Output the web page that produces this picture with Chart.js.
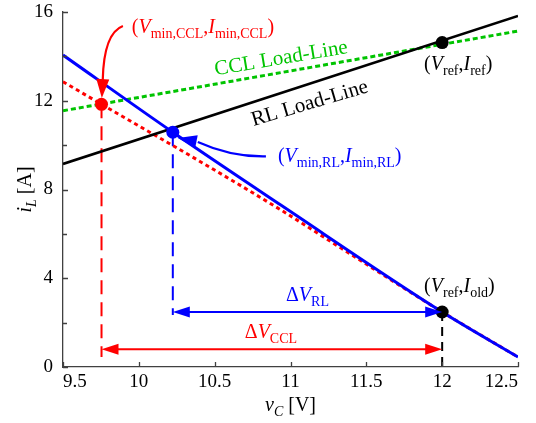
<!DOCTYPE html>
<html><head><meta charset="utf-8">
<script src="https://cdn.jsdelivr.net/npm/chart.js@4.4.1/dist/chart.umd.min.js"></script>
<style>html,body{margin:0;padding:0;background:#fff;} #wrap{width:536px;height:423px;position:relative;}</style>
</head><body><div id="wrap"><canvas id="c" width="536" height="423"></canvas></div>
<script>
// ---- data ----
const xTicks = [9.5, 10, 10.5, 11, 11.5, 12, 12.5];
const xTickLabels = ['9.5', '10', '10.5', '11', '11.5', '12', '12.5'];
const yTicks = [0, 4, 8, 12, 16];
const yTickLabels = ['0', '4', '8', '12', '16'];
const yMinorTicks = [2, 6, 10, 14];

const rlTrajV = [9.5, 10.224, 10.936, 12.0, 12.5];
const rlTrajI = [14.06, 10.58, 7.3, 2.48, 0.45];
const cclTrajV = [9.5, 9.754, 10.387, 10.936, 11.333, 12.0, 12.5];
const cclTrajI = [12.86, 11.84, 9.33, 7.08, 5.36, 2.48, 0.45];
const cclLoadV = [9.5, 12.5];
const cclLoadI = [11.55, 15.14];
const rlLoadV = [9.5, 12.5];
const rlLoadI = [9.15, 15.82];

const opV = [9.754, 10.224, 12.0, 12.0];
const opI = [11.84, 10.58, 14.62, 2.48];

const dropCclV = [9.754, 9.754];  const dropCclI = [11.84, 0.45];
const dropRlV = [10.224, 10.224]; const dropRlI = [10.58, 2.34];
const dropRefV = [12.0, 12.0];    const dropRefI = [2.48, 0];

const dvRlFrom = 10.224, dvRlTo = 12.0, dvRlAt = 2.48;
const dvCclFrom = 9.754, dvCclTo = 12.0, dvCclAt = 0.80;

// ---- styles ----
const RED = '#ff0000', BLUE = '#0000ff', GREEN = '#00c400', BLACK = '#000000', AXIS = '#404040';
const SERIF = "'Liberation Serif', 'Times New Roman', serif";

const pts = (vs, is) => vs.map((v, k) => ({x: v, y: is[k]}));

const labels = [
  {v: 9.954, i: 15.05, color: RED, align: 'left', segs: [['(', 'n'], ['V', 'i'], ['min,CCL', 's'], [',', 'n'], ['I', 'i'], ['min,CCL', 's'], [')', 'n']]},
  {v: 10.944, i: 13.65, color: GREEN, align: 'center', rot: -9.5, size: 21, segs: [['CCL Load-Line', 'n']]},
  {v: 11.137, i: 11.63, color: BLACK, align: 'center', rot: -16.5, size: 21, segs: [['RL Load-Line', 'n']]},
  {v: 11.881, i: 13.38, color: BLACK, align: 'left', segs: [['(', 'n'], ['V', 'i'], ['ref', 's'], [',', 'n'], ['I', 'i'], ['ref', 's'], [')', 'n']]},
  {v: 10.917, i: 9.24, color: BLUE, align: 'left', segs: [['(', 'n'], ['V', 'i'], ['min,RL', 's'], [',', 'n'], ['I', 'i'], ['min,RL', 's'], [')', 'n']]},
  {v: 11.881, i: 3.38, color: BLACK, align: 'left', segs: [['(', 'n'], ['V', 'i'], ['ref', 's'], [',', 'n'], ['I', 'i'], ['old', 's'], [')', 'n']]},
  {v: 11.112, i: 2.99, color: BLUE, align: 'center', segs: [['\u0394', 'n'], ['V', 'i'], ['RL', 's']]},
  {v: 10.871, i: 1.31, color: RED, align: 'center', segs: [['\u0394', 'n'], ['V', 'i'], ['CCL', 's']]}
];
const pointers = [
  {color: RED, p: [[9.895, 15.37], [9.769, 15.05], [9.762, 12.93], [9.756, 12.12]]},
  {color: BLUE, p: [[10.838, 9.49], [10.607, 9.46], [10.389, 10.14], [10.257, 10.32]]}
];

function fontFor(style, size) {
  const sub = style === 's' || style === 'si';
  const sz = sub ? Math.round(size * 0.7) : size;
  const it = style === 'i' || style === 'si';
  return (it ? 'italic ' : '') + sz + 'px ' + SERIF;
}
function drawRich(ctx, x, y, segs, color, align, rot, size) {
  size = size || 20;
  ctx.save();
  ctx.translate(x, y);
  if (rot) ctx.rotate(rot * Math.PI / 180);
  ctx.fillStyle = color;
  ctx.textBaseline = 'alphabetic';
  ctx.textAlign = 'left';
  let w = 0;
  segs.forEach(([t, s]) => { ctx.font = fontFor(s, size); w += ctx.measureText(t).width; });
  let cx = align === 'center' ? -w / 2 : (align === 'right' ? -w : 0);
  segs.forEach(([t, s]) => {
    ctx.font = fontFor(s, size);
    const dy = (s === 's' || s === 'si') ? size * 0.25 : 0;
    ctx.fillText(t, cx, dy);
    cx += ctx.measureText(t).width;
  });
  ctx.restore();
}
function arrowHead(ctx, fx, fy, tx, ty, len, half, color) {
  const a = Math.atan2(ty - fy, tx - fx);
  ctx.save();
  ctx.fillStyle = color;
  ctx.beginPath();
  ctx.moveTo(tx, ty);
  ctx.lineTo(tx - len * Math.cos(a) + half * Math.sin(a), ty - len * Math.sin(a) - half * Math.cos(a));
  ctx.lineTo(tx - len * Math.cos(a) - half * Math.sin(a), ty - len * Math.sin(a) + half * Math.cos(a));
  ctx.closePath();
  ctx.fill();
  ctx.restore();
}
function dArrow(ctx, xs, x1, x2, yv, color) {
  const X = xs.x, Y = xs.y;
  const a = X.getPixelForValue(x1), b = X.getPixelForValue(x2), y = Y.getPixelForValue(yv);
  ctx.save();
  ctx.strokeStyle = color; ctx.lineWidth = 2;
  ctx.beginPath(); ctx.moveTo(a + 10, y); ctx.lineTo(b - 10, y); ctx.stroke();
  ctx.restore();
  arrowHead(ctx, b - 20, y, b, y, 17, 5.5, color);
  arrowHead(ctx, a + 20, y, a, y, 17, 5.5, color);
}

const annot = {
  id: 'annot',
  afterDatasetsDraw(chart) {
    const ctx = chart.ctx, s = chart.scales;
    const X = v => s.x.getPixelForValue(v), Y = i => s.y.getPixelForValue(i);
    dArrow(ctx, s, dvRlFrom, dvRlTo, dvRlAt, BLUE);
    dArrow(ctx, s, dvCclFrom, dvCclTo, dvCclAt, RED);
    pointers.forEach(pt => {
      const [p0, c, p1, tip] = pt.p;
      ctx.save();
      ctx.strokeStyle = pt.color; ctx.lineWidth = 2.2;
      ctx.beginPath();
      ctx.moveTo(X(p0[0]), Y(p0[1]));
      ctx.quadraticCurveTo(X(c[0]), Y(c[1]), X(p1[0]), Y(p1[1]));
      ctx.stroke();
      ctx.restore();
      arrowHead(ctx, X(p1[0]), Y(p1[1]), X(tip[0]), Y(tip[1]), 19, 6.5, pt.color);
    });
    labels.forEach(l => drawRich(ctx, X(l.v), Y(l.i), l.segs, l.color, l.align, l.rot, l.size));
  },
  afterDraw(chart) {
    const ctx = chart.ctx, s = chart.scales, a = chart.chartArea;
    ctx.save();
    ctx.strokeStyle = AXIS; ctx.lineWidth = 1.3;
    ctx.beginPath();
    xTicks.forEach(v => { const x = Math.round(s.x.getPixelForValue(v)) + 0.5; ctx.moveTo(x, a.bottom); ctx.lineTo(x, a.bottom - 5); });
    yTicks.forEach(v => { const y = Math.round(s.y.getPixelForValue(v)) + 0.5; ctx.moveTo(a.left, y); ctx.lineTo(a.left + 5, y); });
    yMinorTicks.forEach(v => { const y = Math.round(s.y.getPixelForValue(v)) + 0.5; ctx.moveTo(a.left, y); ctx.lineTo(a.left + 4, y); });
    ctx.stroke();
    ctx.restore();
    drawRich(ctx, (a.left + a.right) / 2, 411, [['v', 'i'], ['C', 'si'], [' [V]', 'n']], BLACK, 'center', 0, 20);
    drawRich(ctx, 31, (a.top + a.bottom) / 2, [['i', 'i'], ['L', 'si'], [' [A]', 'n']], BLACK, 'center', -90, 20);
  }
};

const lineDs = (data, color, width, dash, order) => ({
  data, showLine: true, borderColor: color, backgroundColor: color, borderWidth: width,
  borderDash: dash || [], pointRadius: 0, order, borderCapStyle: 'butt'
});

new Chart(document.getElementById('c'), {
  type: 'scatter',
  data: {
    datasets: [
      {data: pts(opV, opI), pointRadius: 6.5, pointBackgroundColor: [RED, BLUE, BLACK, BLACK], pointBorderWidth: 0, showLine: false, order: 0, clip: false},
      Object.assign(lineDs(pts(rlTrajV, rlTrajI), BLUE, 3, null, 1), {cubicInterpolationMode: 'monotone'}),
      lineDs(pts(rlLoadV, rlLoadI), BLACK, 2.6, null, 2),
      Object.assign(lineDs(pts(cclTrajV, cclTrajI), RED, 3, [4, 3.5], 3), {cubicInterpolationMode: 'monotone'}),
      lineDs(pts(cclLoadV, cclLoadI), GREEN, 3, [5, 3], 4),
      lineDs(pts(dropCclV, dropCclI), RED, 2, [14, 8], 5),
      lineDs(pts(dropRlV, dropRlI), BLUE, 2, [14, 8], 5),
      lineDs(pts(dropRefV, dropRefI), BLACK, 2, [9, 6], 5)
    ]
  },
  options: {
    responsive: false, animation: false, devicePixelRatio: 1,
    layout: {padding: {top: 12, right: 18, left: 0, bottom: 0}},
    plugins: {legend: {display: false}, tooltip: {enabled: false}, title: {display: false}},
    scales: {
      x: {
        type: 'linear', min: 9.5, max: 12.5,
        afterBuildTicks: sc => { sc.ticks = xTicks.map(v => ({value: v})); },
        afterFit: sc => { sc.height = 56; sc.paddingLeft = 0; sc.paddingRight = 0; },
        grid: {display: false, drawTicks: false},
        border: {display: true, color: AXIS, width: 1.3},
        ticks: {color: BLACK, font: {family: SERIF, size: 19}, padding: 4, align: 'inner', maxRotation: 0, autoSkip: false,
          callback: (v, idx) => xTickLabels[idx]}
      },
      y: {
        type: 'linear', min: 0, max: 16,
        afterBuildTicks: sc => { sc.ticks = yTicks.map(v => ({value: v})); },
        afterFit: sc => { sc.width = 63; sc.paddingTop = 0; sc.paddingBottom = 0; },
        grid: {display: false, drawTicks: false},
        border: {display: true, color: AXIS, width: 1.3},
        ticks: {color: BLACK, font: {family: SERIF, size: 19}, padding: 10, callback: (v, idx) => yTickLabels[idx]}
      }
    }
  },
  plugins: [annot]
});
</script>
</body></html>
